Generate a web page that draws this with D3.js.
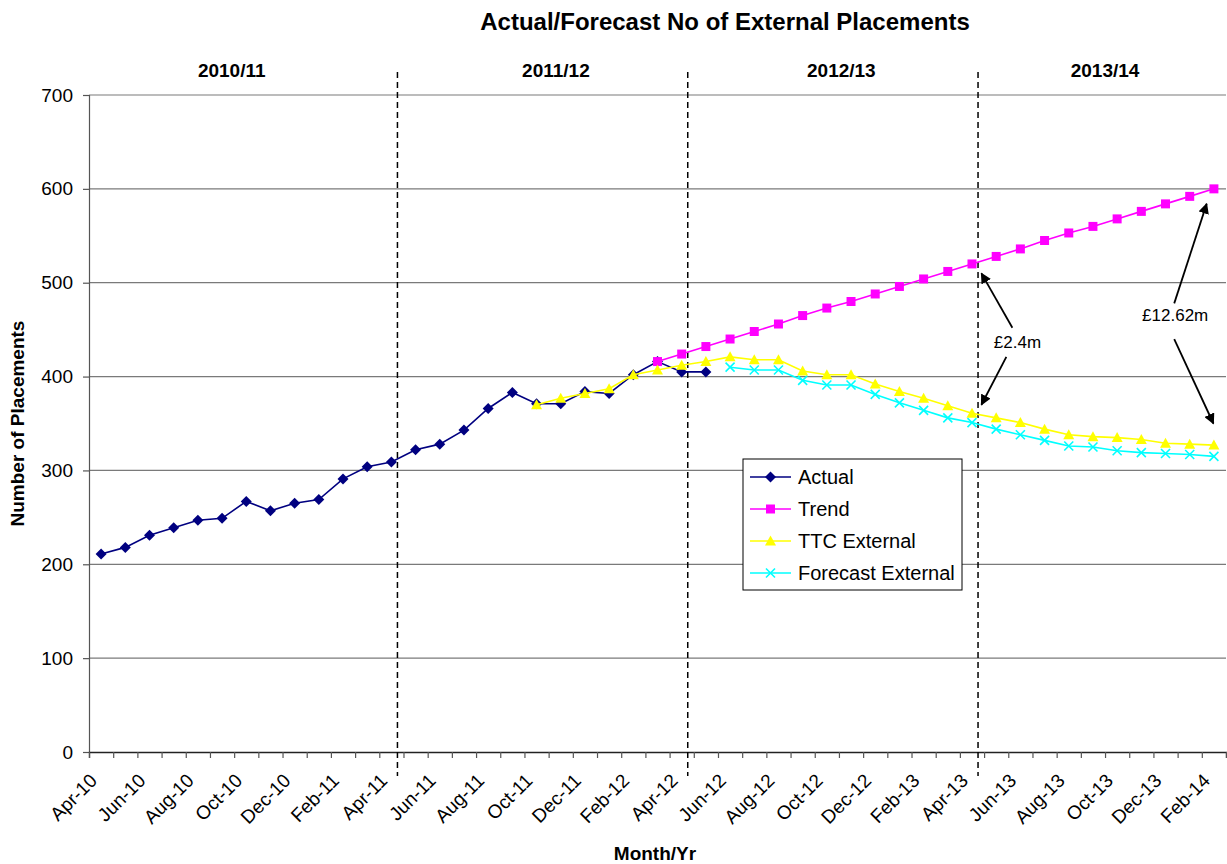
<!DOCTYPE html>
<html>
<head>
<meta charset="utf-8">
<script src="https://cdn.jsdelivr.net/npm/d3@7"></script>
<style>
  body { margin: 0; background: #fff; }
  svg { display: block; font-family: "Liberation Sans", Arial, sans-serif; }
</style>
</head>
<body>
<svg id="chart" width="1227" height="864"></svg>
<script>
// Monthly categories, Apr-10 .. Feb-14
const months = [
  "Apr-10","May-10","Jun-10","Jul-10","Aug-10","Sep-10","Oct-10","Nov-10","Dec-10",
  "Jan-11","Feb-11","Mar-11","Apr-11","May-11","Jun-11","Jul-11","Aug-11","Sep-11","Oct-11","Nov-11","Dec-11",
  "Jan-12","Feb-12","Mar-12","Apr-12","May-12","Jun-12","Jul-12","Aug-12","Sep-12","Oct-12","Nov-12","Dec-12",
  "Jan-13","Feb-13","Mar-13","Apr-13","May-13","Jun-13","Jul-13","Aug-13","Sep-13","Oct-13","Nov-13","Dec-13",
  "Jan-14","Feb-14"
];

// Series values (each series starts at the month named in its *Start constant)
const actualStart = "Apr-10";
const actual = [211,218,231,239,247,249,267,257,265,269,291,304,309,322,328,343,366,383,371,371,384,382,402,416,405,405];

const trendStart = "Mar-12";
const trend = [416,424,432,440,448,456,465,473,480,488,496,504,512,520,528,536,545,553,560,568,576,584,592,600];

const ttcStart = "Oct-11";
const ttc = [370,377,382,387,402,407,412,416,421,418,418,406,402,402,392,384,377,369,361,356,351,344,338,336,335,333,329,328,327];

const forecastStart = "Jun-12";
const forecast = [410,407,407,396,391,391,381,372,364,356,351,344,338,332,326,325,321,319,318,317,315];

const yTicks = [0,100,200,300,400,500,600,700];
const xTickLabels = months.filter((d, i) => i % 2 === 0);

// Financial years and the months where a new one begins
const fiscalYears = ["2010/11","2011/12","2012/13","2013/14"];
const fiscalYearLabelAt = [5.4, 18.8, 30.6, 41.5];   // category index of each label centre
const fiscalYearStarts = ["Apr-11","Apr-12","Apr-13"];

// Cost-gap call-outs: label position and arrow ends given as [category index, value]
const callouts = [
  { text: "£2.4m",   at: [37.88, 437], arrows: [[[37.67, 452], [36.39, 510]], [[37.42, 421], [36.39, 370]]] },
  { text: "£12.62m", at: [44.40, 466], arrows: [[[44.36, 478], [45.70, 584]], [[44.36, 440], [45.98, 350]]] }
];

const seriesInfo = [
  { name: "Actual",            data: actual,   start: actualStart,   color: "#000080", marker: "diamond"  },
  { name: "Trend",             data: trend,    start: trendStart,    color: "#FF00FF", marker: "square"   },
  { name: "TTC External",      data: ttc,      start: ttcStart,      color: "#FFFF00", marker: "triangle" },
  { name: "Forecast External", data: forecast, start: forecastStart, color: "#00FFFF", marker: "cross"    }
];

// ---------- layout ----------
const plot = { left: 89, right: 1226, top: 95, bottom: 752 };
const gridColor = "#7a7a7a";
const axisColor = "#555";

const svg = d3.select("#chart");

const x = d3.scalePoint().domain(months).range([plot.left, plot.right]).padding(0.5);
const step = x.step();
const xIdx = i => x(months[0]) + i * step;           // fractional category position
const y = d3.scaleLinear().domain([0, 700]).range([plot.bottom, plot.top]);

// gridlines
svg.append("g")
  .selectAll("line").data(yTicks.filter(v => v > 0)).join("line")
  .attr("x1", plot.left).attr("x2", plot.right)
  .attr("y1", d => y(d)).attr("y2", d => y(d))
  .attr("stroke", gridColor).attr("stroke-width", 1.2);

// y axis
const yAxis = svg.append("g")
  .attr("transform", `translate(${plot.left},0)`)
  .call(d3.axisLeft(y).tickValues(yTicks).tickSize(6).tickPadding(10).tickFormat(d3.format("d")));
yAxis.select(".domain").attr("stroke", axisColor).attr("stroke-width", 1.2);
yAxis.selectAll(".tick line").attr("stroke", axisColor).attr("stroke-width", 1.2);
yAxis.selectAll("text").attr("font-size", 19).attr("fill", "#000")
  .attr("font-family", "'Liberation Sans', Arial, sans-serif");

// x axis: tick marks on every category boundary
const xb = d3.scaleLinear().domain([-0.5, months.length - 0.5]).range([plot.left, plot.right]);
const xAxis = svg.append("g")
  .attr("transform", `translate(0,${plot.bottom})`)
  .call(d3.axisBottom(xb).tickValues(d3.range(-0.5, months.length, 1)).tickSize(6).tickFormat(""));
xAxis.select(".domain").attr("stroke", "#222").attr("stroke-width", 1.3);
xAxis.selectAll(".tick line").attr("stroke", axisColor).attr("stroke-width", 1.2);

// x tick labels, every second month, rotated
const xLab = svg.append("g")
  .attr("transform", `translate(0,${plot.bottom})`)
  .call(d3.axisBottom(x).tickValues(xTickLabels).tickSize(0).tickPadding(0));
xLab.select(".domain").remove();
xLab.selectAll("text")
  .attr("font-size", 19).attr("fill", "#000")
  .attr("font-family", "'Liberation Sans', Arial, sans-serif")
  .attr("text-anchor", "end")
  .attr("dy", "0.35em")
  .attr("transform", "translate(-8,25) rotate(-45)");

// fiscal-year dividers
svg.append("g").selectAll("line").data(fiscalYearStarts).join("line")
  .attr("x1", d => x(d) + step * 0.25).attr("x2", d => x(d) + step * 0.25)
  .attr("y1", 72).attr("y2", 776)
  .attr("stroke", "#000").attr("stroke-width", 1.5).attr("stroke-dasharray", "6,4");

// fiscal-year labels
svg.append("g").selectAll("text").data(fiscalYears).join("text")
  .attr("x", (d, i) => xIdx(fiscalYearLabelAt[i]))
  .attr("y", 77)
  .attr("text-anchor", "middle")
  .attr("font-size", 19).attr("font-weight", "bold")
  .text(d => d);

// series
const markerPath = {
  diamond: "M0,-5.5L5.5,0L0,5.5L-5.5,0Z",
  square: "M-4.5,-4.5H4.5V4.5H-4.5Z",
  triangle: "M0,-5.5L5.5,4.5L-5.5,4.5Z",
  cross: "M-4.5,-4.5L4.5,4.5M4.5,-4.5L-4.5,4.5"
};

function drawMarker(sel, s) {
  if (s.marker === "cross") {
    sel.append("path").attr("d", markerPath.cross)
      .attr("stroke", s.color).attr("stroke-width", 1.6).attr("fill", "none");
  } else {
    sel.append("path").attr("d", markerPath[s.marker]).attr("fill", s.color);
  }
}

const line = d3.line().x(d => x(d.m)).y(d => y(d.v));

seriesInfo.forEach(s => {
  const i0 = months.indexOf(s.start);
  const pts = s.data.map((v, i) => ({ m: months[i0 + i], v }));
  const g = svg.append("g");
  g.append("path").datum(pts).attr("d", line)
    .attr("fill", "none").attr("stroke", s.color).attr("stroke-width", 1.6);
  g.selectAll("g").data(pts).join("g")
    .attr("transform", d => `translate(${x(d.m)},${y(d.v)})`)
    .each(function () { drawMarker(d3.select(this), s); });
});

// call-outs
svg.append("defs").append("marker")
  .attr("id", "arrowhead").attr("viewBox", "0 0 10 10")
  .attr("refX", 9).attr("refY", 5)
  .attr("markerWidth", 6).attr("markerHeight", 6)
  .attr("markerUnits", "strokeWidth")
  .attr("orient", "auto")
  .append("path").attr("d", "M0,0L10,5L0,10Z").attr("fill", "#000");

callouts.forEach(c => {
  c.arrows.forEach(([a, b]) => {
    svg.append("line")
      .attr("x1", xIdx(a[0])).attr("y1", y(a[1]))
      .attr("x2", xIdx(b[0])).attr("y2", y(b[1]))
      .attr("stroke", "#000").attr("stroke-width", 1.8)
      .attr("marker-end", "url(#arrowhead)");
  });
  svg.append("text")
    .attr("x", xIdx(c.at[0])).attr("y", y(c.at[1]))
    .attr("dy", "0.35em").attr("text-anchor", "middle")
    .attr("font-size", 17).text(c.text);
});

// legend
const lg = svg.append("g").attr("transform", "translate(743,459)");
lg.append("rect").attr("width", 219).attr("height", 131)
  .attr("fill", "#fff").attr("stroke", "#000").attr("stroke-width", 1);
seriesInfo.forEach((s, i) => {
  const row = lg.append("g").attr("transform", `translate(0,${18 + i * 32})`);
  row.append("line").attr("x1", 7).attr("x2", 48).attr("stroke", s.color).attr("stroke-width", 1.6);
  drawMarker(row.append("g").attr("transform", "translate(27.5,0)"), s);
  row.append("text").attr("x", 55).attr("dy", "0.35em").attr("font-size", 20).text(s.name);
});

// titles
svg.append("text").attr("x", 725).attr("y", 30).attr("text-anchor", "middle")
  .attr("font-size", 24).attr("font-weight", "bold")
  .text("Actual/Forecast No of External Placements");

svg.append("text").attr("x", 655).attr("y", 860).attr("text-anchor", "middle")
  .attr("font-size", 19).attr("font-weight", "bold").text("Month/Yr");

svg.append("text")
  .attr("transform", `translate(24,${(plot.top + plot.bottom) / 2}) rotate(-90)`)
  .attr("text-anchor", "middle")
  .attr("font-size", 19).attr("font-weight", "bold").text("Number of Placements");
</script>
</body>
</html>
